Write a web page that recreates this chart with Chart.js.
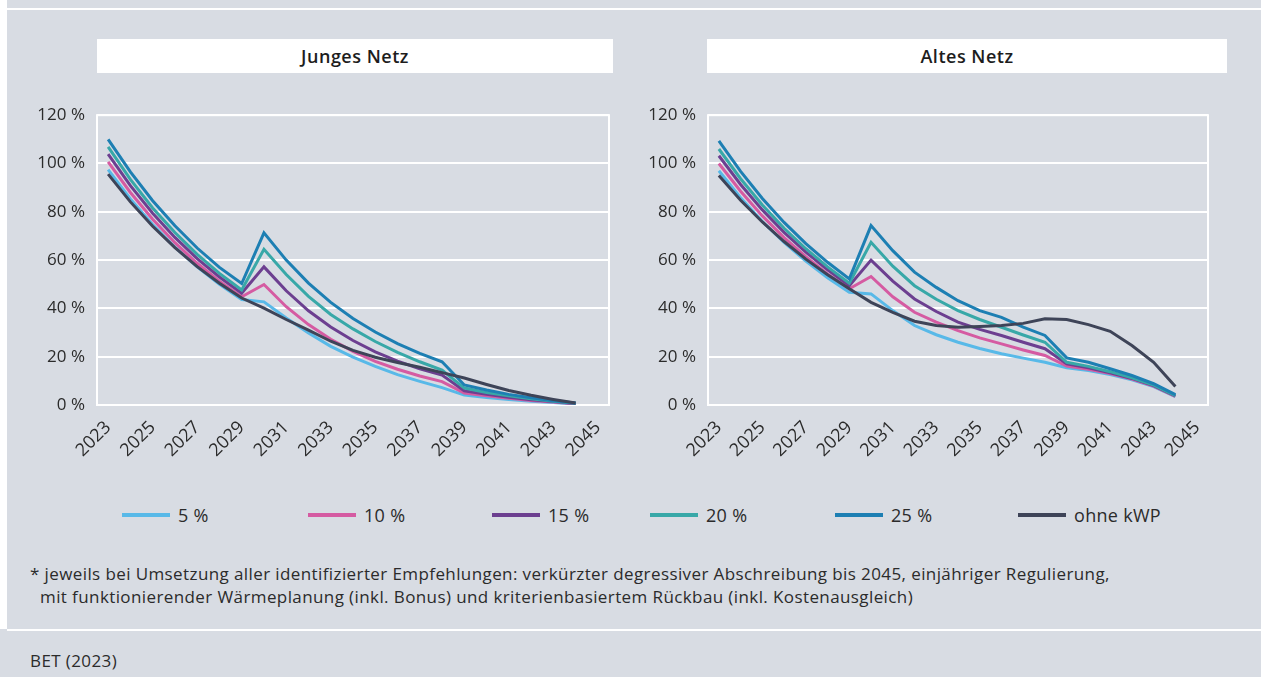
<!DOCTYPE html>
<html lang="de">
<head>
<meta charset="utf-8">
<title>Netzentgelte – Junges und altes Netz</title>
<script src="https://cdn.jsdelivr.net/npm/chart.js@4/dist/chart.umd.min.js"></script>
<style>
  html, body { margin: 0; padding: 0; }
  body {
    width: 1261px; height: 677px; position: relative; overflow: hidden;
    background: #d8dce3; font-family: "Open Sans", sans-serif; color: #2b2b2b;
  }
  .edge { position: absolute; left: 0; top: 0; width: 7px; height: 629px; background: #fff; }
  .rule { position: absolute; left: 7px; right: 0; height: 2px; background: #fff; }
  .panel-title {
    position: absolute; top: 39px; height: 34px; background: #fff;
    display: flex; align-items: center; justify-content: center;
    font-size: 18px; font-weight: 600; letter-spacing: 0.5px; color: #1d1d1d;
  }
  canvas { position: absolute; top: 93px; }
  .legend { position: absolute; top: 503px; left: 0; width: 1261px; height: 24px; }
  .legend-item {
    position: absolute; top: 0; display: flex; align-items: center; height: 24px;
    font-size: 18px; letter-spacing: 0.3px;
  }
  .legend-item i { display: inline-block; width: 48px; height: 4px; margin-right: 8px; }
  .note { position: absolute; left: 30px; top: 562px; font-size: 17px; letter-spacing: 0.4px; line-height: 23px; }
  .note div + div { padding-left: 10px; }
  .source { position: absolute; left: 30px; top: 649px; font-size: 17px; letter-spacing: 0.4px; }
</style>
</head>
<body>
<div class="edge"></div>
<div class="rule" style="top:8px"></div>
<div class="rule" style="top:629px"></div>

<div class="panel-title" style="left:97px;width:516px">Junges Netz</div>
<div class="panel-title" style="left:707px;width:520px">Altes Netz</div>

<canvas id="young" width="620" height="372" style="left:0"></canvas>
<canvas id="old" width="620" height="372" style="left:611px"></canvas>

<div class="legend" id="legend"></div>

<div class="note">
  <div>* jeweils bei Umsetzung aller identifizierter Empfehlungen: verkürzter degressiver Abschreibung bis 2045, einjähriger Regulierung,</div>
  <div>mit funktionierender Wärmeplanung (inkl. Bonus) und kriterienbasiertem Rückbau (inkl. Kostenausgleich)</div>
</div>
<div class="source">BET (2023)</div>

<script>
/* x axis: one category per year, every second one labelled */
const years = ["2023", "2024", "2025", "2026", "2027", "2028", "2029", "2030", "2031", "2032", "2033", "2034",
               "2035", "2036", "2037", "2038", "2039", "2040", "2041", "2042", "2043", "2044", "2045"];
const yTicks = [0, 20, 40, 60, 80, 100, 120];

const seriesNames = ["5 %", "10 %", "15 %", "20 %", "25 %", "ohne kWP"];
const seriesColors = ["#58b9e8", "#d55ba2", "#6c3f90", "#38a8a8", "#1d7fb3", "#3e4458"];

/* Junges Netz, % of today's level, 2023–2044 */
const young5  = [97.5, 85.3, 74.7, 65.4, 57.2, 50, 43.7, 42.7, 36, 29.8, 24.3, 19.8, 16, 12.6, 9.8, 7.2, 4.1, 3.1, 2.3, 1.6, 1, 0.4];
const young10 = [100.7, 88, 76.9, 67.2, 58.7, 51.3, 44.8, 49.9, 40.7, 33.3, 27.2, 22.2, 18.1, 14.8, 12, 9.7, 5, 3.8, 2.8, 1.9, 1.2, 0.5];
const young15 = [103.9, 90.8, 79.4, 69.4, 60.6, 53, 46.3, 57.2, 47.3, 39, 32.3, 26.7, 22, 18.2, 15, 12.4, 5.9, 4.4, 3.2, 2.2, 1.4, 0.6];
const young20 = [106.9, 93.4, 81.6, 71.4, 62.4, 54.5, 47.6, 64.5, 54, 45, 37.5, 31.5, 26.3, 21.8, 17.9, 14.5, 7, 5.2, 3.8, 2.6, 1.6, 0.7];
const young25 = [110, 96.5, 84.6, 74.2, 65, 57, 50.3, 71.3, 60, 50.5, 42.5, 35.8, 30.2, 25.4, 21.4, 17.9, 8.3, 6.2, 4.4, 3, 1.8, 0.8];
const youngBase = [95.6, 84.1, 74, 65.2, 57.3, 50.4, 44.3, 40.1, 35.4, 31, 26.4, 22.6, 19.8, 17.6, 15.6, 13.4, 11.2, 8.5, 6, 4, 2.3, 0.8];

/* Altes Netz */
const old5  = [97, 85.8, 76, 67.3, 59.6, 52.7, 46.7, 46, 39.1, 32.9, 29.1, 26, 23.4, 21.2, 19.4, 17.7, 15.4, 14.3, 12.6, 10.4, 7.6, 3.5];
const old10 = [100, 88.5, 78.3, 69.3, 61.4, 54.3, 48.1, 53.2, 44.8, 38.4, 34.3, 30.8, 27.8, 25.3, 22.8, 20.5, 16.1, 14.8, 13, 10.7, 7.8, 3.6];
const old15 = [103.2, 91.3, 80.8, 71.5, 63.3, 56, 49.4, 60, 51.3, 43.9, 38.7, 34.3, 31.3, 28.8, 26, 23.3, 17, 15.4, 13.3, 11, 8, 3.8];
const old20 = [106, 93.7, 82.8, 73.2, 64.7, 57.2, 50.4, 67.4, 57.5, 49.4, 43.8, 39.1, 35.4, 32.2, 29, 26, 17.7, 16, 13.8, 11.3, 8.2, 3.9];
const old25 = [109.4, 96.7, 85.5, 75.6, 66.8, 59.1, 52.2, 74.3, 63.9, 55, 48.7, 43.2, 39.1, 36.3, 32.2, 28.8, 19.5, 17.7, 15, 12.2, 8.8, 4.3];
const oldBase = [95, 84.8, 75.8, 67.7, 60.4, 53.9, 48.1, 42.5, 38.4, 34.7, 32.9, 32.2, 32.5, 32.9, 33.8, 35.7, 35.4, 33.3, 30.5, 24.6, 17.7, 7.7];

const FONT = "'Open Sans', sans-serif";
const INK = "#2b2b2b";

/* white frame round the plot area, drawn under the lines */
const framePlugin = {
  id: "frame",
  beforeDatasetsDraw(chart) {
    const { ctx, chartArea: a } = chart;
    ctx.save();
    ctx.strokeStyle = "#fff";
    ctx.lineWidth = 2;
    ctx.strokeRect(a.left, a.top, a.right - a.left, a.bottom - a.top);
    ctx.restore();
  },
};

function makeChart(id, series, padRight) {
  return new Chart(document.getElementById(id), {
    type: "line",
    data: {
      labels: years,
      datasets: series.map((values, i) => ({
        label: seriesNames[i],
        data: values,
        borderColor: seriesColors[i],
        backgroundColor: seriesColors[i],
        borderWidth: 3,
        pointRadius: 0,
        tension: 0,
        order: series.length - i, // later series sit on top
      })),
    },
    options: {
      responsive: false,
      animation: false,
      devicePixelRatio: 1,
      layout: { padding: { left: 0, right: padRight, top: 10, bottom: 0 } },
      plugins: { legend: { display: false }, tooltip: { enabled: false } },
      scales: {
        x: {
          offset: true,
          grid: { display: false },
          border: { display: false },
          ticks: {
            autoSkip: false,
            maxRotation: 45,
            minRotation: 45,
            padding: 4,
            color: INK,
            font: { family: FONT, size: 18 },
            callback: (v, i) => (i % 2 === 0 ? years[i] : ""),
          },
          afterFit: (s) => { s.height = 60; },
        },
        y: {
          min: yTicks[0],
          max: yTicks[yTicks.length - 1],
          afterBuildTicks: (s) => { s.ticks = yTicks.map((v) => ({ value: v })); },
          grid: { color: "#fff", lineWidth: 2, drawTicks: false },
          border: { display: false },
          ticks: {
            padding: 12,
            color: INK,
            font: { family: FONT, size: 17 },
            callback: (v) => v + " %",
          },
          afterFit: (s) => { s.width = 97; },
        },
      },
    },
    plugins: [framePlugin],
  });
}

makeChart("young", [young5, young10, young15, young20, young25, youngBase], 11);
makeChart("old", [old5, old10, old15, old20, old25, oldBase], 23);

/* shared legend under both panels */
const legendLeft = [122, 308, 492, 650, 835, 1018];
const legend = document.getElementById("legend");
seriesNames.forEach((name, i) => {
  const item = document.createElement("div");
  item.className = "legend-item";
  item.style.left = legendLeft[i] + "px";
  item.innerHTML = `<i style="background:${seriesColors[i]}"></i>${name}`;
  legend.appendChild(item);
});
</script>
</body>
</html>
